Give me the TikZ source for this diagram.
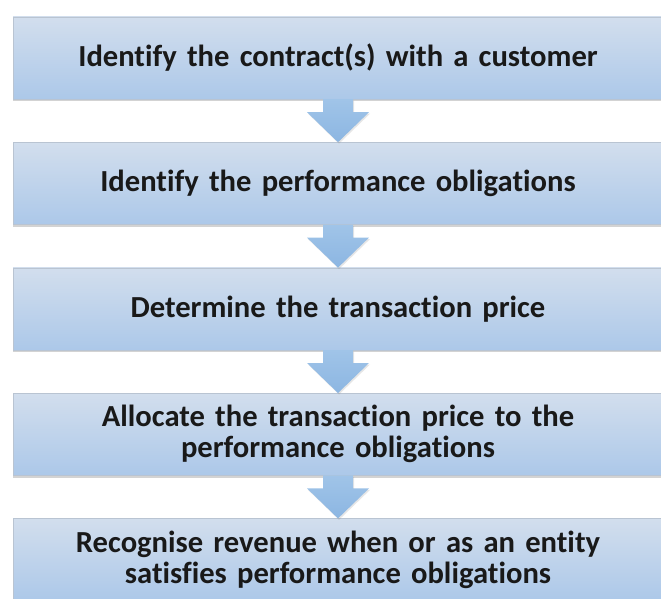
\documentclass[tikz,border=0pt]{standalone}
\usepackage{fontspec}
\setmainfont{Carlito}[Ligatures=NoCommon]
\usetikzlibrary{positioning, calc, shadows}
\definecolor{boxtop}{RGB}{210,222,237}
\definecolor{boxbottom}{RGB}{172,200,233}
\definecolor{boxline}{RGB}{185,196,210}
\definecolor{arrowblue}{RGB}{160,196,232}
\definecolor{arrowdark}{RGB}{140,182,226}
\tikzset{
    stepbox/.style={
        rectangle,
        draw=boxline, % 细边框
        top color=boxtop,
        bottom color=boxbottom,
        thin,
        minimum width=650pt,
        minimum height=82pt,
        text width=620pt,
        align=center,
        inner sep=0,
        text=black!90,
        font=\bfseries\fontsize{30.6}{31}\selectfont,
        drop shadow={shadow xshift=0pt, shadow yshift=-2.5pt, opacity=.35}
    },
    blockarrow/.style={
        top color=arrowblue,
        bottom color=arrowdark,
        draw=none,
        drop shadow={shadow xshift=1pt, shadow yshift=-1.5pt, opacity=.2}
    }
}
% 块状箭头: 从上一个框的底部到下一个框的顶部
\newcommand{\flowarrow}[2]{
    \path[blockarrow]
        ($(#1.south)+(-15pt,0)$) -- ($(#2.north)+(-15pt,30pt)$)
        -- ($(#2.north)+(-31pt,30pt)$) -- (#2.north)
        -- ($(#2.north)+(31pt,30pt)$) -- ($(#2.north)+(15pt,30pt)$)
        -- ($(#1.south)+(15pt,0)$) -- cycle;
}
\begin{document}
\begin{tikzpicture}[x=1pt, y=-1pt, node distance=43pt]
    \useasboundingbox (0,0) rectangle (661,599);
    % 五个步骤
    \node[stepbox] (s1) at (338,58) {Identify the contract(s) with a customer};
    \node[stepbox, below=of s1] (s2) {Identify the performance obligations};
    \node[stepbox, below=of s2] (s3) {Determine the transaction price};
    \node[stepbox, below=of s3] (s4) {Allocate the transaction price to the\\performance obligations};
    \node[stepbox, below=of s4] (s5) {Recognise revenue when or as an entity\\satisfies performance obligations};
    % 箭头
    \flowarrow{s1}{s2}
    \flowarrow{s2}{s3}
    \flowarrow{s3}{s4}
    \flowarrow{s4}{s5}
\end{tikzpicture}
\end{document}
